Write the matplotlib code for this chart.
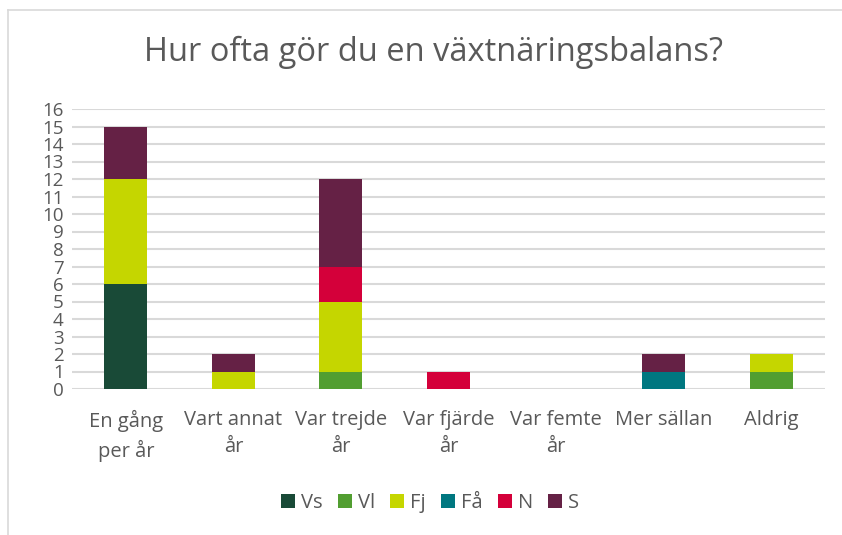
import numpy as np
import matplotlib.pyplot as plt
from matplotlib.lines import Line2D

plt.rcParams['font.family'] = ['Open Sans', 'DejaVu Sans']

categories = ["En gång\nper år", "Vart annat\når", "Var trejde\når", "Var fjärde\når",
              "Var femte\når", "Mer sällan", "Aldrig"]
series = ["Vs", "Vl", "Fj", "Få", "N", "S"]
vs = [6, 0, 0, 0, 0, 0, 0]
vl = [0, 0, 1, 0, 0, 0, 1]
fj = [6, 1, 4, 0, 0, 0, 1]
fa = [0, 0, 0, 0, 0, 1, 0]
n = [0, 0, 2, 1, 0, 0, 0]
s = [3, 1, 5, 0, 0, 1, 0]
colors = ["#194a37", "#529e31", "#c5d600", "#007780", "#d4003a", "#652145"]

gray = "#595959"
fig = plt.figure(figsize=(8.42, 5.35), dpi=100)
ax = fig.add_axes([72/842, 1 - 389/535, (825 - 72)/842, (389 - 109)/535])

x = np.arange(len(categories))
bottom = np.zeros(len(categories))
for name, vals, col in zip(series, [vs, vl, fj, fa, n, s], colors):
    ax.bar(x, vals, width=0.4, bottom=bottom, color=col, label=name, zorder=3)
    bottom += np.array(vals)

ax.set_xlim(-0.5, len(categories) - 0.5)
ax.set_ylim(0, 16)
ax.set_yticks(range(0, 17))
ax.grid(axis='y', color='#d9d9d9', linewidth=1.5, zorder=0)
for sp in ax.spines.values():
    sp.set_visible(False)
ax.tick_params(length=0, labelsize=14.5, labelcolor=gray)
ax.tick_params(axis='y', pad=6)
ax.tick_params(axis='x', pad=15)
ax.set_xticks(x)
ax.set_xticklabels(categories, linespacing=1.45)
for lbl in ax.get_yticklabels():
    lbl.set_fontsize(13.5)

fig.text(433/842, 1 - 52/535, "Hur ofta gör du en växtnäringsbalans?",
         ha='center', va='center', fontsize=23.5, color=gray)

ax.legend(loc='center', bbox_to_anchor=(430/842, 1 - 503/535), bbox_transform=fig.transFigure,
          ncol=6, frameon=False, fontsize=14.5, labelcolor=gray,
          handlelength=0.7, handleheight=0.7, handletextpad=0.3, columnspacing=0.75)

fig.add_artist(Line2D([8/842, 8/842], [0, 1 - 10/535], transform=fig.transFigure,
                      color='#d9d9d9', linewidth=1.2))
fig.add_artist(Line2D([8/842, 1], [1 - 10/535, 1 - 10/535], transform=fig.transFigure,
                      color='#d9d9d9', linewidth=1.2))

fig.savefig("out.png", dpi=100)
